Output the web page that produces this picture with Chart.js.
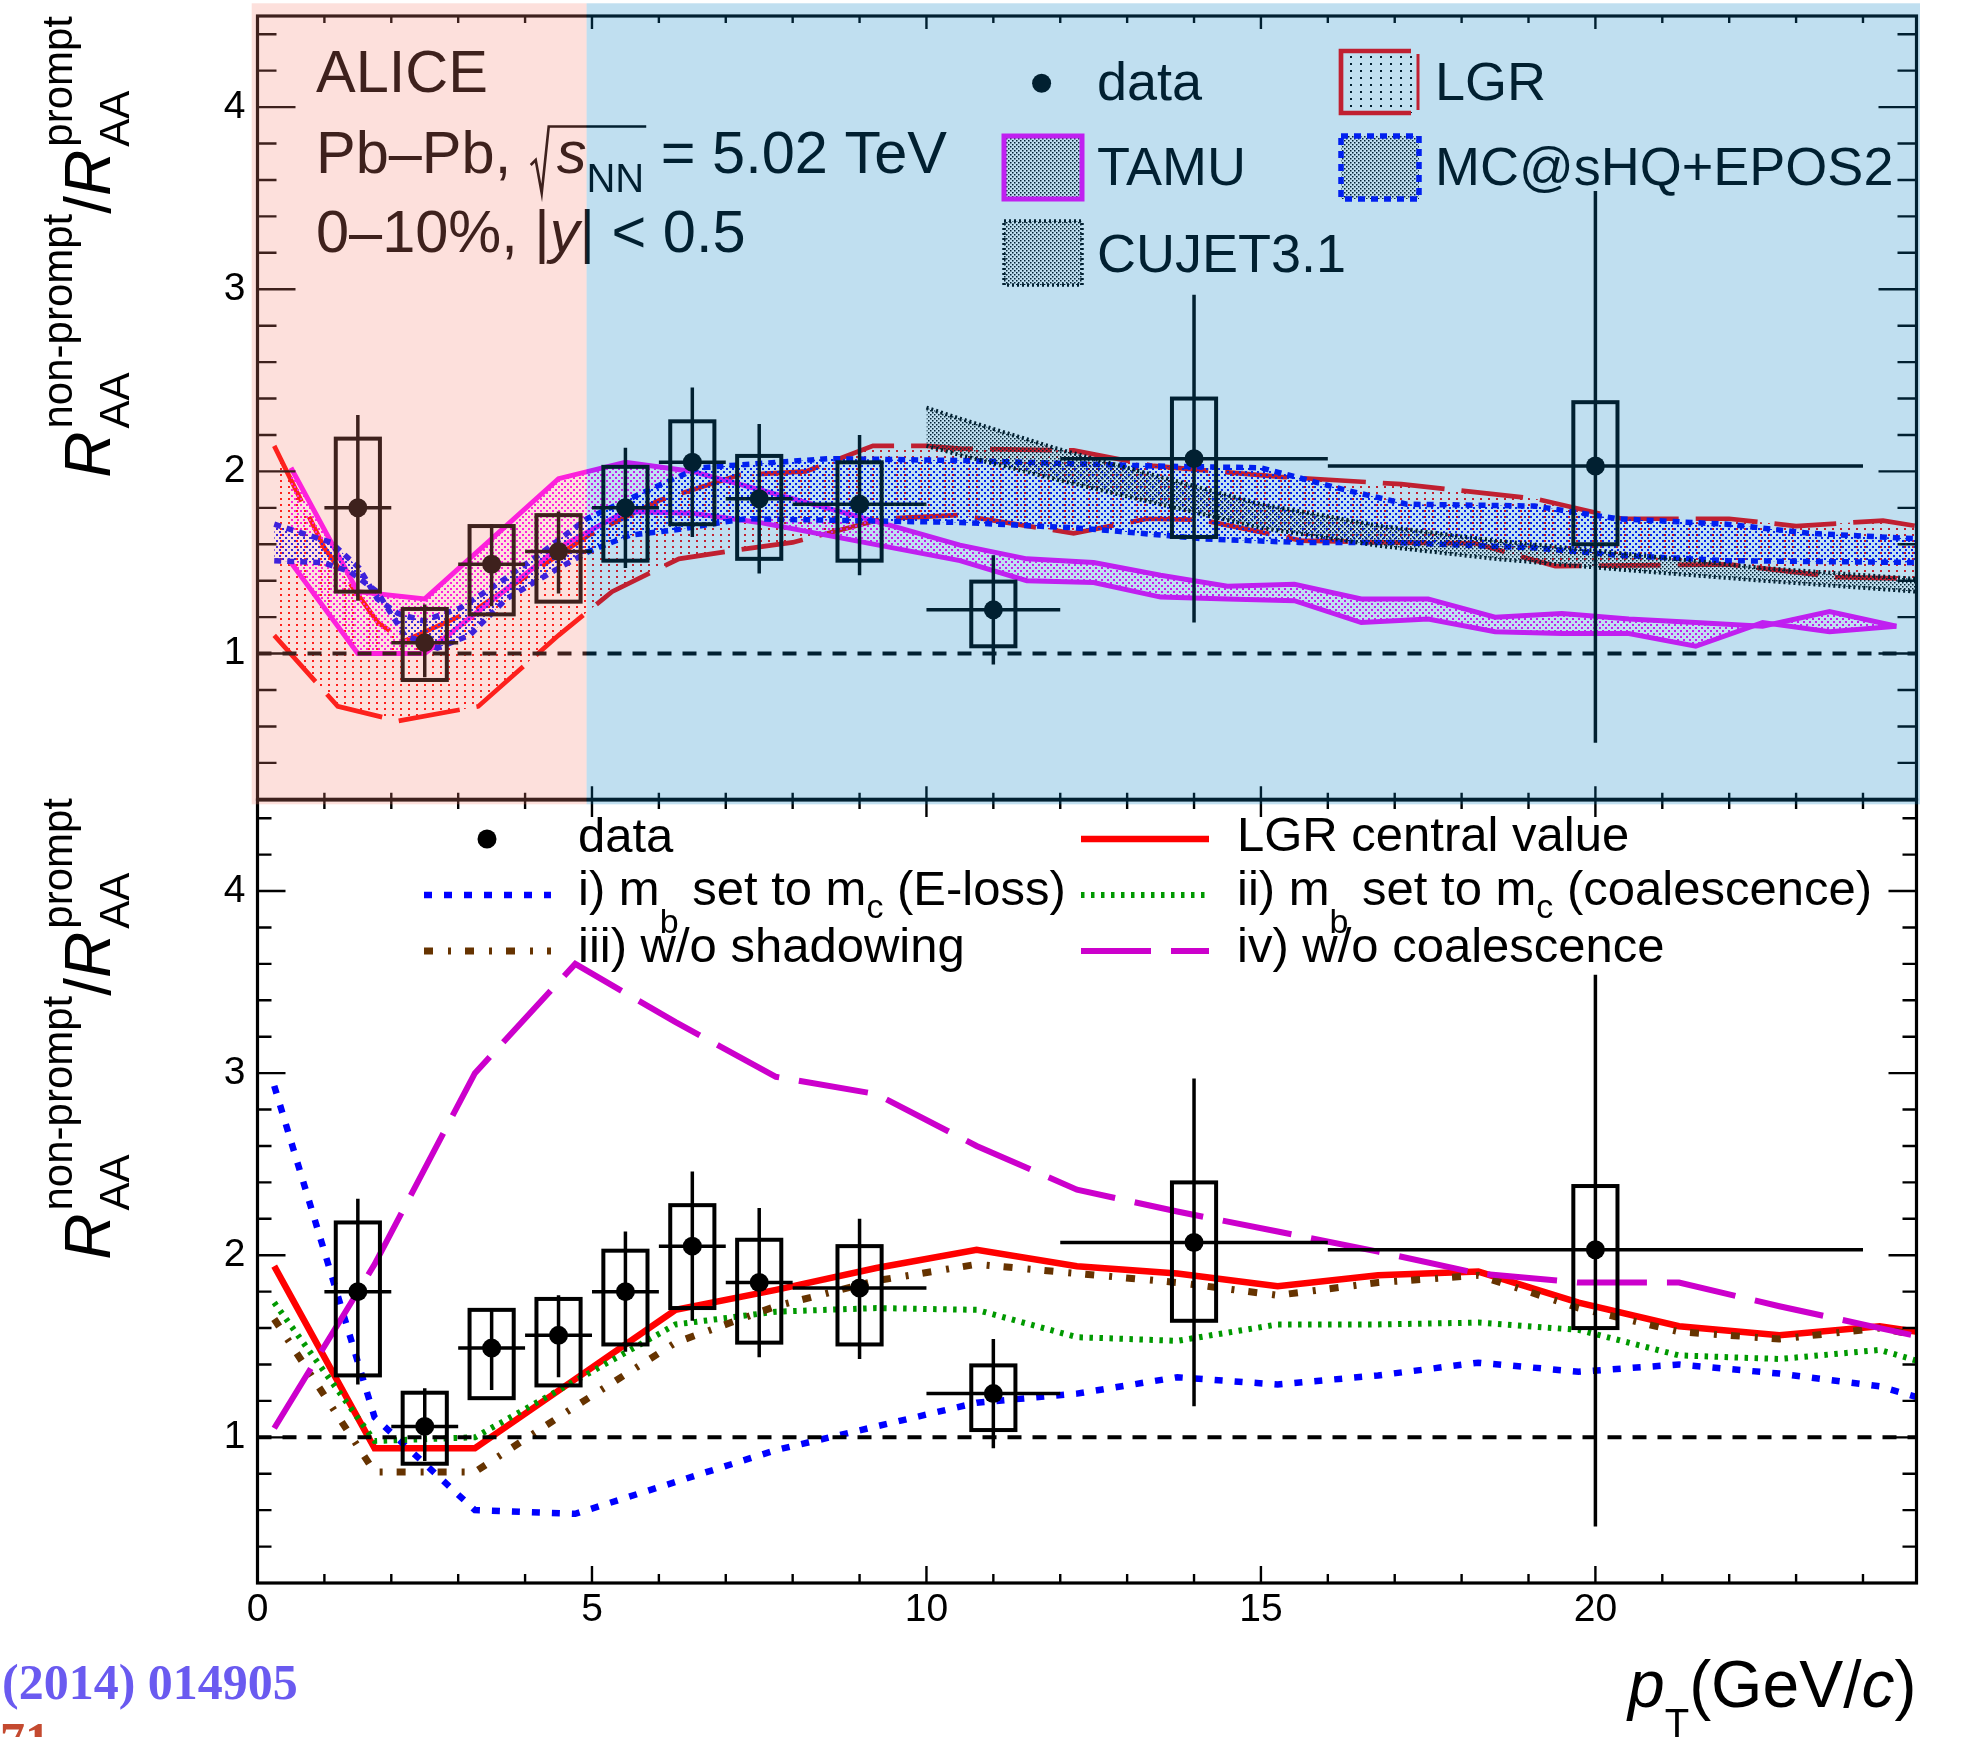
<!DOCTYPE html>
<html>
<head>
<meta charset="utf-8">
<title>Non-prompt / prompt R_AA ratio</title>
<script src="https://cdn.jsdelivr.net/npm/chart.js@4.4.1/dist/chart.umd.min.js"></script>
<style>
  html, body { margin: 0; padding: 0; background: #fff; }
  #wrap { position: relative; width: 1961px; height: 1737px; overflow: hidden; background: #fff; }
  #wrap canvas { position: absolute; left: 0; top: 0; }
  #cBottom { z-index: 1; }
  #cTop { z-index: 2; }
</style>
</head>
<body>
<div id="wrap">
  <canvas id="cBottom" width="1961" height="1737"></canvas>
  <canvas id="cTop" width="1961" height="812"></canvas>
</div>
<script>
// ---------------- measurement (ALICE, Pb-Pb 0-10%) ----------------
const binCentre = [1.5, 2.5, 3.5, 4.5, 5.5, 6.5, 7.5, 9, 11, 14, 20];
const binLow    = [1, 2, 3, 4, 5, 6, 7, 8, 10, 12, 16];
const binHigh   = [2, 3, 4, 5, 6, 7, 8, 10, 12, 16, 24];
const ratio     = [1.80, 1.06, 1.49, 1.56, 1.80, 2.05, 1.85, 1.82, 1.24, 2.07, 2.03];
const statLow   = [1.29, 0.87, 1.26, 1.33, 1.47, 1.64, 1.44, 1.43, 0.94, 1.17, 0.51];
const statHigh  = [2.31, 1.27, 1.71, 1.78, 2.13, 2.46, 2.26, 2.20, 1.54, 2.97, 3.54];
const systLow   = [1.34, 0.855, 1.215, 1.285, 1.51, 1.71, 1.52, 1.51, 1.04, 1.64, 1.60];
const systHigh  = [2.18, 1.245, 1.70, 1.76, 2.025, 2.275, 2.085, 2.05, 1.395, 2.40, 2.38];

// ---------------- model bands (upper panel) ----------------
const lgrUpX = [0.25, 1.0, 1.8, 2.2, 3.3, 4.0, 4.95, 6.0, 7.2, 8.2, 9.2, 10.0, 10.5, 12.2, 13.4, 15.3, 17.1, 19.1, 20.4, 22.0, 23.0, 24.3, 24.8];
const lgrUpY = [2.14, 1.58, 1.17, 1.07, 1.25, 1.42, 1.65, 1.84, 1.98, 2.00, 2.14, 2.14, 2.125, 2.115, 2.03, 1.97, 1.93, 1.85, 1.74, 1.74, 1.70, 1.73, 1.70];
const lgrLoX = [0.25, 1.2, 2.1, 3.3, 4.5, 5.3, 6.3, 7.2, 8.0, 9.35, 10.5, 12.2, 13.3, 14.1, 15.6, 16.8, 18.2, 19.4, 22.0, 23.6, 24.8];
const lgrLoY = [1.10, 0.71, 0.63, 0.71, 1.10, 1.34, 1.52, 1.57, 1.61, 1.74, 1.76, 1.66, 1.74, 1.735, 1.62, 1.61, 1.605, 1.48, 1.49, 1.42, 1.41];

const tamuPt = [0.5, 1.5, 2.5, 3.5, 4.5, 5.5, 6.5, 7.5, 8.5, 9.5, 10.5, 11.5, 12.5, 13.5, 14.5, 15.5, 16.5, 17.5, 18.5, 19.5, 20.5, 21.5, 22.5, 23.5, 24.5];
const tamuUp = [2.02, 1.34, 1.30, 1.63, 1.96, 2.05, 2.00, 1.90, 1.80, 1.70, 1.595, 1.52, 1.50, 1.43, 1.37, 1.38, 1.30, 1.30, 1.20, 1.22, 1.19, 1.17, 1.15, 1.23, 1.15];
const tamuLo = [1.50, 1.00, 1.00, 1.29, 1.58, 1.78, 1.77, 1.72, 1.65, 1.58, 1.51, 1.40, 1.39, 1.31, 1.30, 1.29, 1.17, 1.19, 1.12, 1.11, 1.11, 1.04, 1.17, 1.12, 1.15];

const mcUpX = [0.25, 1.1, 1.52, 1.79, 2.1, 2.48, 3.03, 3.58, 4.2, 4.92, 5.92, 6.6, 8.53, 10.51, 13.37, 15.0, 16.24, 17.18, 19.09, 20.33, 21.97, 23.21, 24.8];
const mcUpY = [1.71, 1.61, 1.47, 1.30, 1.22, 1.18, 1.25, 1.38, 1.54, 1.74, 1.91, 2.02, 2.07, 2.06, 2.03, 2.02, 1.90, 1.82, 1.81, 1.74, 1.71, 1.66, 1.63];
const mcLoX = [0.25, 0.97, 1.38, 1.79, 2.2, 2.69, 3.17, 3.72, 4.41, 4.95, 5.57, 6.26, 7.29, 10.51, 12.23, 12.9, 14.14, 15.57, 17.0, 19.1, 20.33, 21.97, 24.8];
const mcLoY = [1.51, 1.50, 1.45, 1.34, 1.10, 1.03, 1.10, 1.30, 1.45, 1.56, 1.65, 1.68, 1.74, 1.72, 1.69, 1.67, 1.63, 1.61, 1.61, 1.58, 1.54, 1.51, 1.50];

const cujetPt = [10.0, 10.5, 12.0, 13.6, 15.0, 16.8, 18.5, 20.4, 22.5, 24.8];
const cujetUp = [2.35, 2.29, 2.12, 1.96, 1.82, 1.70, 1.62, 1.55, 1.47, 1.41];
const cujetLo = [2.14, 2.09, 1.95, 1.81, 1.69, 1.59, 1.52, 1.46, 1.40, 1.34];

// ---------------- LGR variations (lower panel) ----------------
const lgrGrid        = [0.25, 1.75, 3.25, 4.75, 6.25, 7.75, 9.25, 10.75, 12.25, 13.75, 15.25, 16.75, 18.25, 19.75, 21.25, 22.75, 24.25, 25.75];
const lgrCentral     = [1.94, 0.94, 0.94, 1.32, 1.70, 1.81, 1.93, 2.03, 1.94, 1.90, 1.83, 1.89, 1.91, 1.74, 1.61, 1.56, 1.61, 1.53];
const mbEloss        = [2.93, 1.11, 0.60, 0.58, 0.755, 0.93, 1.06, 1.19, 1.24, 1.33, 1.29, 1.34, 1.41, 1.36, 1.40, 1.35, 1.28, 1.12];
const mbCoalescence  = [1.74, 0.98, 1.00, 1.31, 1.62, 1.69, 1.71, 1.70, 1.55, 1.53, 1.62, 1.62, 1.63, 1.59, 1.45, 1.43, 1.48, 1.32];
const noShadowing    = [1.65, 0.81, 0.81, 1.17, 1.52, 1.72, 1.86, 1.95, 1.90, 1.85, 1.78, 1.85, 1.89, 1.71, 1.58, 1.54, 1.60, 1.49];
const noCoalescence  = [1.05, 1.95, 3.00, 3.60, 3.28, 2.98, 2.885, 2.60, 2.36, 2.24, 2.13, 2.02, 1.90, 1.85, 1.85, 1.72, 1.60, 1.48];

// ---------------- axes ----------------
const X_MIN = 0, X_MAX = 24.8, Y_MIN = 0.2, Y_MAX = 4.5;
const xTickLabels = [0, 5, 10, 15, 20];
const yTickLabels = [1, 2, 3, 4];
const unity = 1;
const lowPtEdge = 4.92;          // end of the shaded low-pT region

// ---------------- styling ----------------
const FONT = '"Liberation Sans", Arial, Helvetica, sans-serif';
const RED = '#ff0000', MAG = '#ff00ff', BLUE = '#0000ff';
Chart.defaults.font.family = FONT;
Chart.defaults.color = '#000';

function dotPattern(ctx, color, w, h, dots, size) {
  const c = document.createElement('canvas');
  c.width = w; c.height = h;
  const g = c.getContext('2d');
  g.fillStyle = color;
  dots.forEach(([dx, dy]) => g.fillRect(dx, dy, size, size));
  return ctx.createPattern(c, 'repeat');
}

function pts(xs, ys) { return xs.map((x, i) => ({ x, y: ys[i] })); }

function lineDs(xs, ys, color, width, dash, order, extra) {
  return Object.assign({
    data: pts(xs, ys), borderColor: color, borderWidth: width, borderDash: dash,
    pointRadius: 0, fill: false, tension: 0, clip: 0, order,
    borderJoinStyle: 'miter', borderCapStyle: 'butt'
  }, extra || {});
}

function unityDs() {
  return lineDs([X_MIN, X_MAX], [unity, unity], '#000', 4, [14, 11], 2);
}

function markerDs() {
  return {
    data: pts(binCentre, ratio), showLine: false, pointRadius: 9.5,
    pointStyle: 'circle', pointBackgroundColor: '#000', pointBorderWidth: 0,
    borderColor: '#000', clip: 0, order: 1
  };
}

function yAxis() {
  return {
    type: 'linear', min: Y_MIN, max: Y_MAX,
    afterBuildTicks: s => { s.ticks = yTickLabels.map(v => ({ value: v })); },
    afterFit: s => { s.width = 257.5; s.paddingTop = 0; s.paddingBottom = 0; },
    grid: { display: false, drawTicks: false }, border: { display: false },
    ticks: { font: { size: 39 }, color: '#000', padding: 12 }
  };
}

// rich text: parts = [text, size, style, dy]
function richText(ctx, x, y, parts, measureOnly) {
  let cx = x;
  for (const [t, size, st, dy] of parts) {
    ctx.font = (st === 'i' ? 'italic ' : '') + size + 'px ' + FONT;
    if (!measureOnly) ctx.fillText(t, cx, y + (dy || 0));
    cx += ctx.measureText(t).width;
  }
  return cx;
}

// ROOT-like frame with inward ticks on all four sides
function drawFrame(chart, t) {
  const { ctx, chartArea: a, scales: { x, y } } = chart;
  ctx.save();
  ctx.strokeStyle = '#000';
  ctx.lineWidth = 2.4;
  ctx.beginPath();
  for (let v = 1; v <= Math.floor(X_MAX); v++) {
    const px = x.getPixelForValue(v);
    const major = v % 5 === 0;
    const lb = major ? t.xMajB : t.xMinB, lt = major ? t.xMajT : t.xMinT;
    ctx.moveTo(px, a.bottom); ctx.lineTo(px, a.bottom - lb);
    ctx.moveTo(px, a.top); ctx.lineTo(px, a.top + lt);
  }
  for (let k = 2; k <= 22; k++) {
    const v = k * 0.2;
    const py = y.getPixelForValue(v);
    const len = k % 5 === 0 ? t.yMaj : t.yMin;
    ctx.moveTo(a.left, py); ctx.lineTo(a.left + len, py);
    ctx.moveTo(a.right, py); ctx.lineTo(a.right - len, py);
  }
  ctx.stroke();
  ctx.lineWidth = 3.2;
  ctx.strokeRect(a.left, a.top, a.right - a.left, a.bottom - a.top);
  ctx.restore();
}

// statistical bars and systematic boxes
function drawMeasurement(chart) {
  const { ctx, chartArea: a, scales: { x, y } } = chart;
  const boxHalf = 0.33;
  ctx.save();
  ctx.beginPath(); ctx.rect(a.left, a.top, a.right - a.left, a.bottom - a.top); ctx.clip();
  ctx.strokeStyle = '#000';
  ctx.lineWidth = 4;
  binCentre.forEach((c, i) => {
    const x0 = x.getPixelForValue(c - boxHalf), x1 = x.getPixelForValue(c + boxHalf);
    const y0 = y.getPixelForValue(systHigh[i]), y1 = y.getPixelForValue(systLow[i]);
    ctx.strokeRect(x0, y0, x1 - x0, y1 - y0);
  });
  ctx.lineWidth = 3.5;
  ctx.beginPath();
  binCentre.forEach((c, i) => {
    const px = x.getPixelForValue(c), py = y.getPixelForValue(ratio[i]);
    ctx.moveTo(px, y.getPixelForValue(statHigh[i])); ctx.lineTo(px, y.getPixelForValue(statLow[i]));
    ctx.moveTo(x.getPixelForValue(binLow[i]), py); ctx.lineTo(x.getPixelForValue(binHigh[i]), py);
  });
  ctx.stroke();
  ctx.restore();
}

function drawYTitle(ctx, baseX, topY) {
  const big = 64, small = 42;
  const fR = 'italic ' + big + 'px ' + FONT, fN = big + 'px ' + FONT, fS = small + 'px ' + FONT;
  ctx.save();
  ctx.font = fR; const wR = ctx.measureText('R').width;
  ctx.font = fN; const wSl = ctx.measureText('/').width;
  ctx.font = fS;
  const w1 = Math.max(ctx.measureText('AA').width, ctx.measureText('non-prompt').width);
  const w2 = Math.max(ctx.measureText('AA').width, ctx.measureText('prompt').width);
  const gap = 3;
  const total = wR + gap + w1 + wSl + wR + gap + w2;
  ctx.translate(baseX, topY + total);
  ctx.rotate(-Math.PI / 2);
  ctx.fillStyle = '#000';
  ctx.textBaseline = 'alphabetic';
  let p = 0;
  ctx.font = fR; ctx.fillText('R', p, 0); p += wR + gap;
  ctx.font = fS; ctx.fillText('AA', p, 19); ctx.fillText('non-prompt', p, -38); p += w1;
  ctx.font = fN; ctx.fillText('/', p, 0); p += wSl;
  ctx.font = fR; ctx.fillText('R', p, 0); p += wR + gap;
  ctx.font = fS; ctx.fillText('AA', p, 19); ctx.fillText('prompt', p, -38);
  ctx.restore();
}

function legendBox(ctx, x, y, w, h, fill, stroke, width, dash) {
  ctx.save();
  ctx.fillStyle = fill;
  ctx.fillRect(x, y, w, h);
  ctx.strokeStyle = stroke; ctx.lineWidth = width; ctx.setLineDash(dash);
  ctx.strokeRect(x, y, w, h);
  ctx.restore();
}

// LGR legend symbol: dotted fill, bracket-like outline
function lgrLegendBox(ctx, x, y, w, h, fill) {
  ctx.save();
  ctx.fillStyle = fill;
  ctx.fillRect(x, y, w, h);
  ctx.strokeStyle = RED; ctx.lineWidth = 4.7;
  ctx.beginPath();
  ctx.moveTo(x + w - 7, y); ctx.lineTo(x, y); ctx.lineTo(x, y + h); ctx.lineTo(x + w - 7, y + h);
  ctx.stroke();
  ctx.lineWidth = 3;
  ctx.beginPath(); ctx.moveTo(x + w, y + 3); ctx.lineTo(x + w, y + h - 3); ctx.stroke();
  ctx.restore();
}

function legendLine(ctx, x0, x1, y, color, width, dash) {
  ctx.save();
  ctx.strokeStyle = color; ctx.lineWidth = width; ctx.setLineDash(dash);
  ctx.beginPath(); ctx.moveTo(x0, y); ctx.lineTo(x1, y); ctx.stroke();
  ctx.restore();
}

function dot(ctx, x, y, r) {
  ctx.beginPath(); ctx.arc(x, y, r, 0, Math.PI * 2); ctx.fillStyle = '#000'; ctx.fill();
}

// ---------------- upper panel ----------------
const topCanvas = document.getElementById('cTop');
const tctx = topCanvas.getContext('2d');
const pat = {
  lgr:   dotPattern(tctx, RED, 8, 6, [[0, 0]], 2),
  tamu:  dotPattern(tctx, MAG, 6, 6, [[0, 0], [3, 3]], 2),
  mc:    dotPattern(tctx, BLUE, 6, 6, [[0, 0], [3, 3]], 2),
  cujet: dotPattern(tctx, '#000', 4, 4, [[0, 0], [2, 2]], 1.5),
  legSparse: dotPattern(tctx, '#000', 10, 7, [[0, 0]], 2),
  legDense:  dotPattern(tctx, '#000', 4, 4, [[0, 0], [2, 2]], 1.5)
};

const topPlugin = {
  id: 'upperPanel',
  afterDatasetsDraw(chart) { drawMeasurement(chart); },
  afterDraw(chart) {
    const ctx = chart.ctx;
    drawFrame(chart, { xMajB: 13, xMinB: 6.5, xMajT: 13, xMinT: 7, yMaj: 38, yMin: 19 });
    ctx.save();
    ctx.fillStyle = '#000'; ctx.strokeStyle = '#000'; ctx.textBaseline = 'alphabetic';
    // collision system text
    const T = 59.5;
    ctx.font = T + 'px ' + FONT;
    ctx.fillText('ALICE', 316, 92);
    let cx = richText(ctx, 316, 173, [['Pb–Pb, ', T]]);
    const sStart = cx + 29;
    const nnEnd = richText(ctx, sStart, 173, [['s', T, 'i'], ['NN', 40, 'n', 19]]);
    ctx.lineWidth = 2.6;
    ctx.beginPath();
    ctx.moveTo(cx + 3, 165); ctx.lineTo(cx + 8, 160); ctx.lineTo(cx + 14, 193);
    ctx.lineTo(cx + 21, 126.5); ctx.lineTo(nnEnd + 2, 126.5);
    ctx.stroke();
    richText(ctx, nnEnd, 173, [[' = 5.02 TeV', T]]);
    richText(ctx, 316, 252, [['0–10%, |', T], ['y', T, 'i'], ['| < 0.5', T]]);
    // legend
    dot(ctx, 1041.6, 83.3, 9.5);
    lgrLegendBox(ctx, 1341, 51, 77, 62, pat.legSparse);
    legendBox(ctx, 1004, 136, 78, 63, pat.legDense, MAG, 5, []);
    legendBox(ctx, 1341, 136, 78, 63, pat.legDense, BLUE, 5.5, [7, 6]);
    legendBox(ctx, 1004, 221, 78, 64, pat.legDense, '#000', 3.5, [2, 3]);
    ctx.fillStyle = '#000';
    ctx.font = '54px ' + FONT;
    ctx.fillText('data', 1097, 100);
    ctx.fillText('LGR', 1435, 100);
    ctx.fillText('TAMU', 1097, 185);
    ctx.fillText('MC@sHQ+EPOS2', 1435, 185);
    ctx.fillText('CUJET3.1', 1097, 272);
    ctx.restore();
    drawYTitle(ctx, 110, 16);
    // shaded pT regions
    const split = chart.scales.x.getPixelForValue(lowPtEdge);
    ctx.save();
    ctx.fillStyle = 'rgba(247,131,115,0.25)';
    ctx.fillRect(251.7, 3.3, split - 251.7, 801);
    ctx.fillStyle = 'rgba(3,127,195,0.25)';
    ctx.fillRect(split, 3.3, 1920 - split, 801);
    ctx.restore();
  }
};

new Chart(topCanvas, {
  type: 'line',
  data: {
    datasets: [
      lineDs(lgrLoX, lgrLoY, RED, 4.7, [62, 17], 20),
      lineDs(lgrUpX, lgrUpY, RED, 4.7, [62, 17], 19, { fill: '-1', backgroundColor: pat.lgr }),
      lineDs(tamuPt, tamuLo, MAG, 5, [], 18),
      lineDs(tamuPt, tamuUp, MAG, 5, [], 17, { fill: '-1', backgroundColor: pat.tamu }),
      lineDs(mcLoX, mcLoY, BLUE, 5.5, [7, 6], 16),
      lineDs(mcUpX, mcUpY, BLUE, 5.5, [7, 6], 15, { fill: '-1', backgroundColor: pat.mc }),
      lineDs(cujetPt, cujetLo, '#000', 4, [2, 3], 14),
      lineDs(cujetPt, cujetUp, '#000', 4, [2, 3], 13, { fill: '-1', backgroundColor: pat.cujet }),
      unityDs(),
      markerDs()
    ]
  },
  options: {
    responsive: false, animation: false, devicePixelRatio: 1, events: [],
    layout: { padding: { left: 0, right: 44.5, top: 16, bottom: 12.7 } },
    plugins: { legend: { display: false }, tooltip: { enabled: false } },
    scales: {
      x: { type: 'linear', min: X_MIN, max: X_MAX, display: false },
      y: yAxis()
    }
  },
  plugins: [topPlugin]
});

// ---------------- lower panel ----------------
const botCanvas = document.getElementById('cBottom');

const bottomPlugin = {
  id: 'lowerPanel',
  afterDatasetsDraw(chart) { drawMeasurement(chart); },
  afterDraw(chart) {
    const ctx = chart.ctx;
    drawFrame(chart, { xMajB: 17, xMinB: 9, xMajT: 17, xMinT: 9, yMaj: 28, yMin: 14 });
    ctx.save();
    ctx.fillStyle = '#000'; ctx.textBaseline = 'alphabetic';
    // legend
    dot(ctx, 487, 839, 9.5);
    legendLine(ctx, 424, 551, 895, BLUE, 6.5, [8, 12]);
    legendLine(ctx, 424, 551, 951, '#663300', 7, [9, 15, 3, 14]);
    legendLine(ctx, 1081, 1209, 839, RED, 6.5, []);
    legendLine(ctx, 1081, 1209, 895, '#009900', 6, [3.5, 6.5]);
    legendLine(ctx, 1081, 1209, 951, '#cc00cc', 6, [70, 20]);
    ctx.fillStyle = '#000';
    const L = 49, S = 34;
    richText(ctx, 578, 852, [['data', L]]);
    richText(ctx, 578, 905, [['i) m', L], ['b', S, 'n', 28], [' set to m', L], ['c', S, 'n', 13], [' (E-loss)', L]]);
    richText(ctx, 578, 962, [['iii) w/o shadowing', L]]);
    richText(ctx, 1237, 851, [['LGR central value', L]]);
    richText(ctx, 1237, 905, [['ii) m', L], ['b', S, 'n', 28], [' set to m', L], ['c', S, 'n', 13], [' (coalescence)', L]]);
    richText(ctx, 1237, 962, [['iv) w/o coalescence', L]]);
    // x-axis title, right aligned to the frame
    const xt = [['p', 66, 'i'], ['T', 40, 'n', 30], ['(GeV/', 66], ['c', 66, 'i'], [')', 66]];
    const w = richText(ctx, 0, 0, xt, true);
    richText(ctx, chart.chartArea.right - w, 1707, xt);
    // reference fragments at the page edge
    ctx.font = 'bold 50px "Liberation Serif", "DejaVu Serif", serif';
    ctx.fillStyle = '#6a5af0';
    ctx.fillText('(2014) 014905', 2, 1699);
    ctx.fillStyle = '#c44a30';
    ctx.fillText('71', 0, 1757);
    ctx.restore();
    drawYTitle(ctx, 110, 798);
  }
};

new Chart(botCanvas, {
  type: 'line',
  data: {
    datasets: [
      lineDs(lgrGrid, lgrCentral, RED, 6.5, [], 10),
      lineDs(lgrGrid, mbEloss, BLUE, 6.5, [8, 12], 9),
      lineDs(lgrGrid, mbCoalescence, '#009900', 6, [3.5, 6.5], 8),
      lineDs(lgrGrid, noShadowing, '#663300', 7, [9, 15, 3, 14], 7),
      lineDs(lgrGrid, noCoalescence, '#cc00cc', 6, [70, 20], 6),
      unityDs(),
      markerDs()
    ]
  },
  options: {
    responsive: false, animation: false, devicePixelRatio: 1, events: [],
    layout: { padding: { left: 0, right: 44.5, top: 800, bottom: 0 } },
    plugins: { legend: { display: false }, tooltip: { enabled: false } },
    scales: {
      x: {
        type: 'linear', min: X_MIN, max: X_MAX, position: 'bottom',
        afterBuildTicks: s => { s.ticks = xTickLabels.map(v => ({ value: v })); },
        afterFit: s => { s.height = 154; },
        grid: { display: false, drawTicks: false }, border: { display: false },
        ticks: { font: { size: 39 }, color: '#000', padding: 4, maxRotation: 0, autoSkip: false }
      },
      y: yAxis()
    }
  },
  plugins: [bottomPlugin]
});
</script>
</body>
</html>
